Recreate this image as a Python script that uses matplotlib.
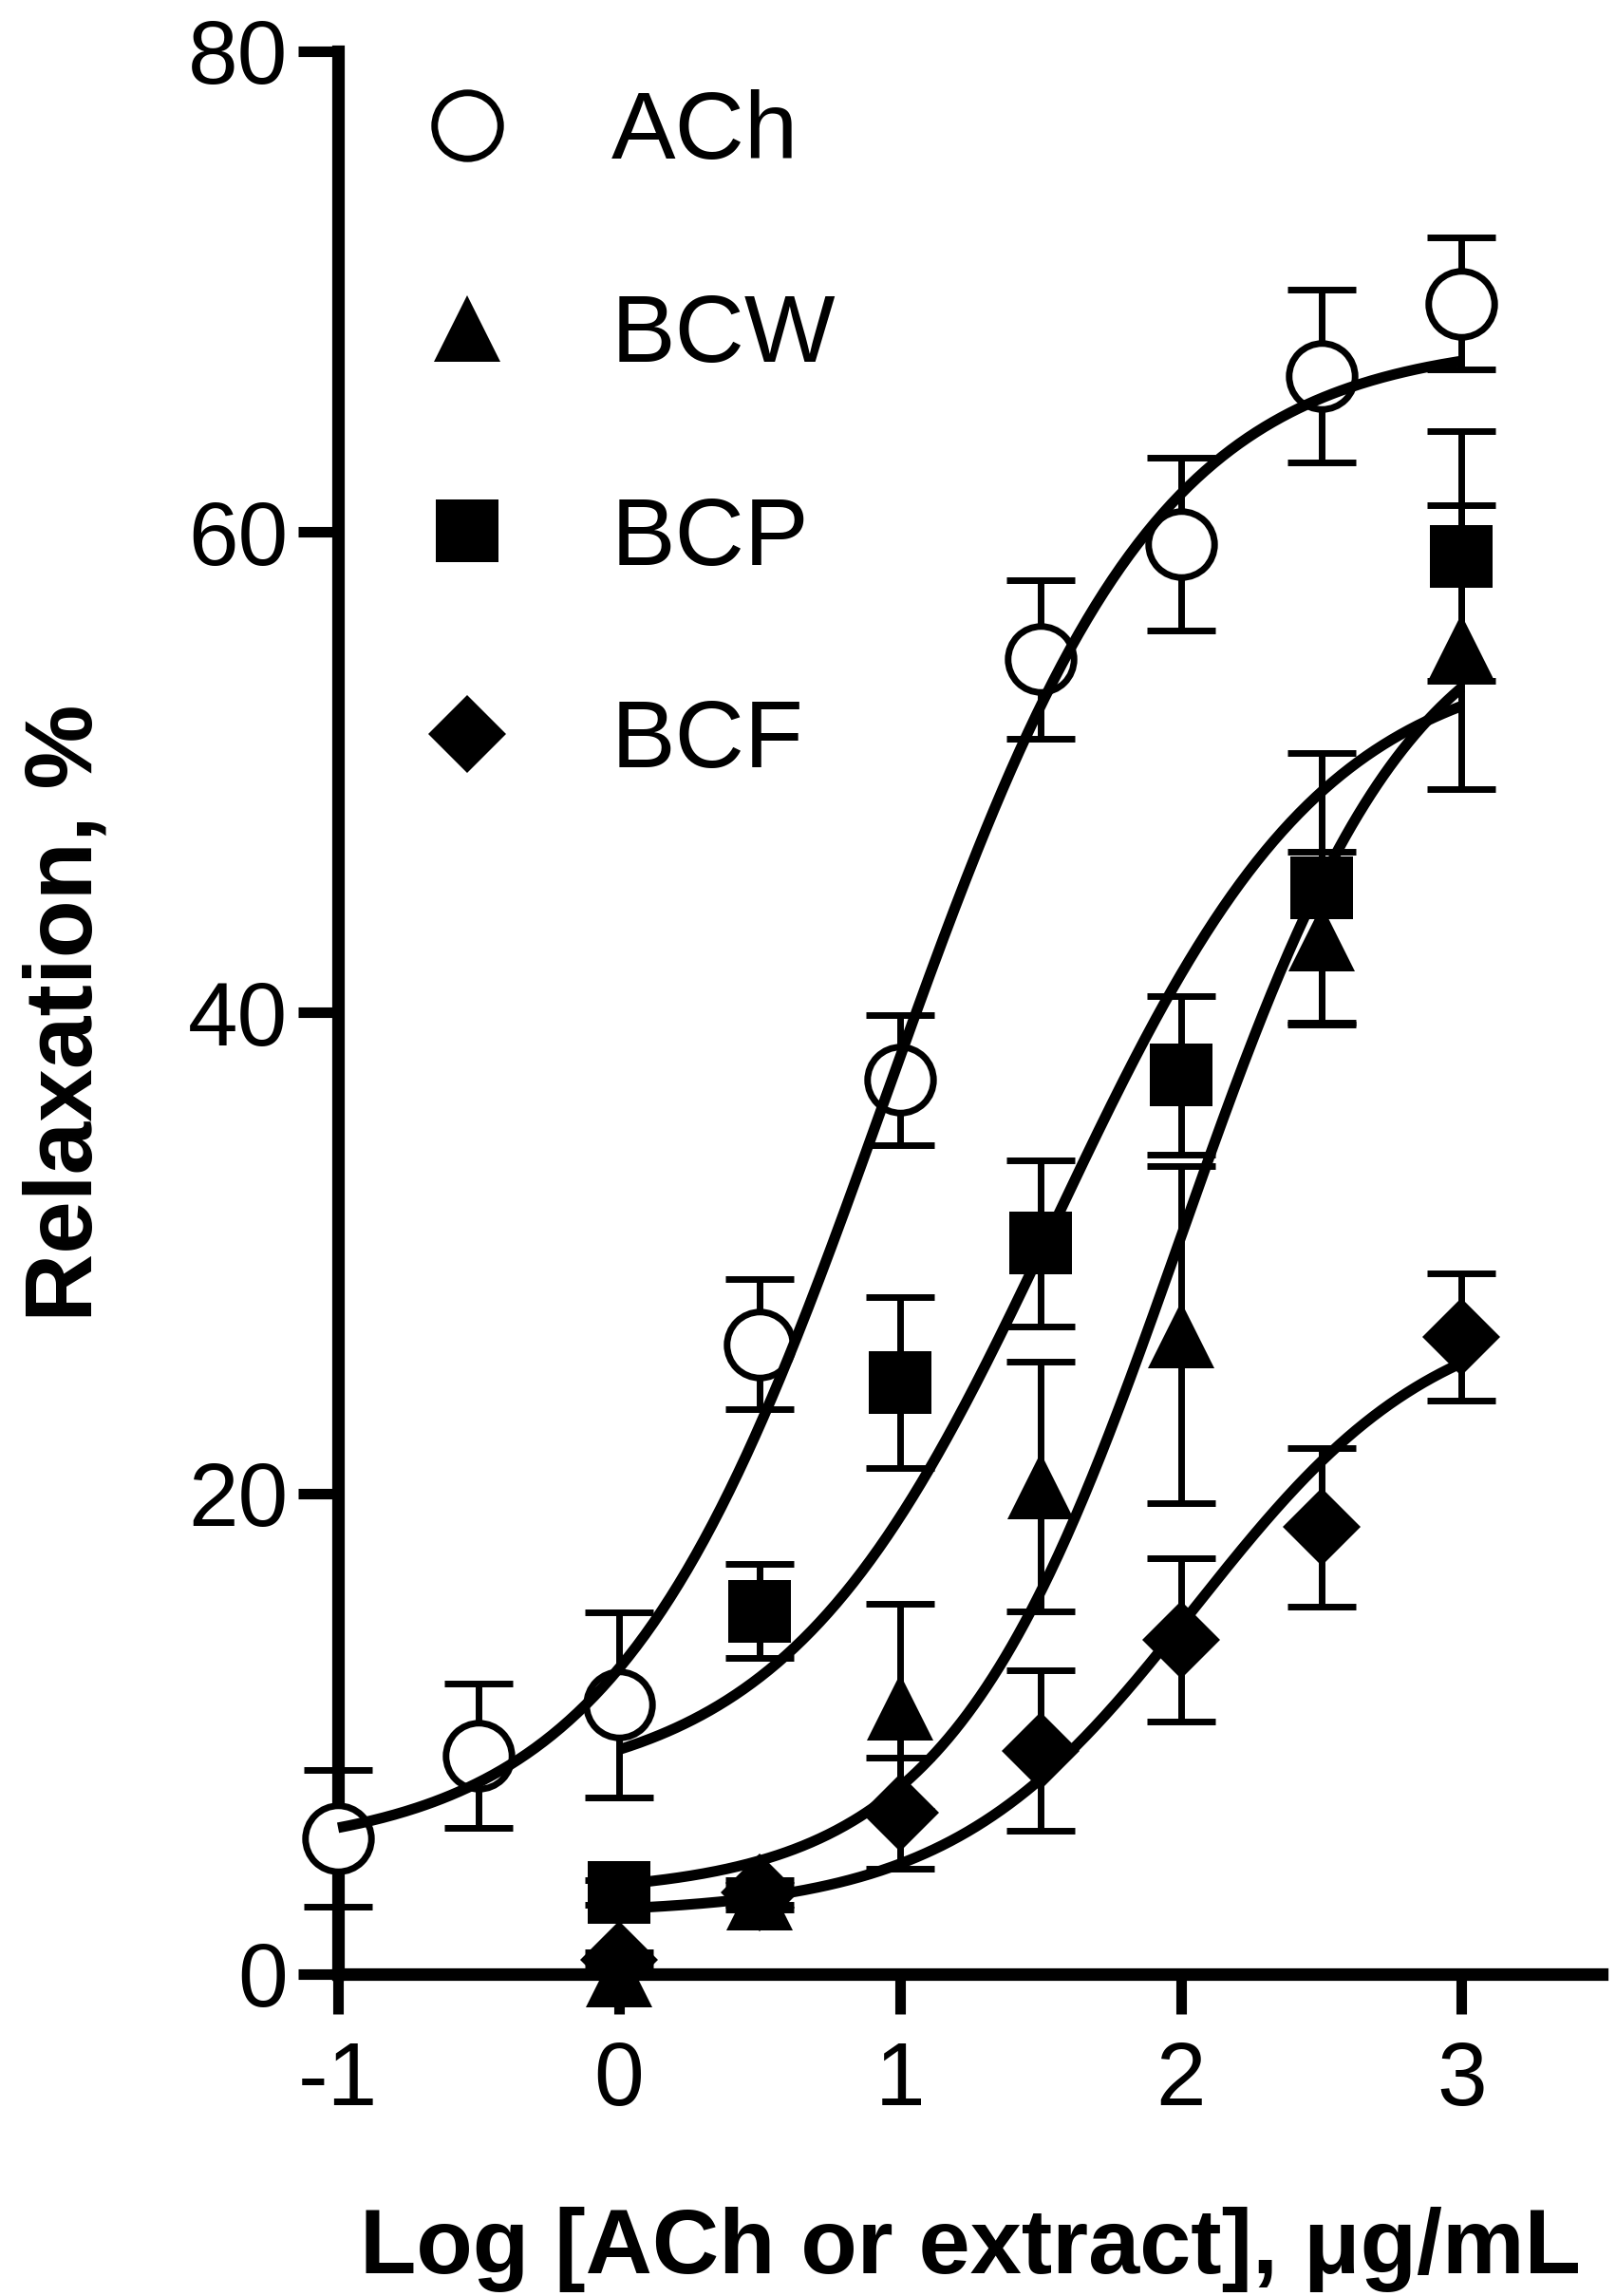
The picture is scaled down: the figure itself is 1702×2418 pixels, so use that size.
import numpy as np
import matplotlib
matplotlib.use("Agg")
import matplotlib.pyplot as plt
from matplotlib.lines import Line2D

plt.rcParams['font.family'] = ['Liberation Sans', 'DejaVu Sans']

# ---------------- data ----------------
ach_conc = [-1, -0.5, 0, 0.5, 1, 1.5, 2, 2.5, 3]
ach_mean = [5.65, 9.1, 11.2, 26.2, 37.2, 54.7, 59.5, 66.5, 69.5]
ach_sem = [2.85, 3.0, 3.85, 2.7, 2.7, 3.3, 3.6, 3.6, 2.75]

ext_conc = [0, 0.5, 1, 1.5, 2, 2.5, 3]
bcw_mean = [0.0, 3.2, 11.1, 20.3, 26.6, 43.1, 55.2]
bcw_sem = [0.0, 0.5, 4.3, 5.2, 7.0, 3.6, 5.9]
bcp_mean = [3.4, 15.1, 24.6, 30.4, 37.4, 45.2, 59.0]
bcp_sem = [0.5, 1.95, 3.55, 3.45, 3.3, 5.6, 5.2]
bcf_mean = [0.6, 3.4, 6.7, 9.3, 13.9, 18.6, 26.5]
bcf_sem = [0.3, 0.5, 2.3, 3.35, 3.4, 3.3, 2.65]

# fitted sigmoidal curves: (bottom, top, logEC50, hill slope)
ach_fit = (5.0, 68.0, 0.95, 0.9)
bcw_fit = (3.3, 58.0, 2.0, 1.05)
bcp_fit = (7.5, 55.0, 1.55, 0.9)
bcf_fit = (2.5, 28.0, 2.05, 1.0)

ach_range = (-1, 3)
ext_range = (0, 3)

x_ticks = [-1, 0, 1, 2, 3]
y_ticks = [0, 20, 40, 60, 80]
series_labels = ['ACh', 'BCW', 'BCP', 'BCF']
x_label = 'Log [ACh or extract], \u03bcg/mL'
y_label = 'Relaxation, %'


def four_pl(x, bottom, top, logec50, hill):
    return bottom + (top - bottom) / (1.0 + 10 ** ((logec50 - x) * hill))


fig = plt.figure(figsize=(17.02, 24.18), dpi=100)
ax = fig.add_axes([0.2092, 0.1402, 0.7822, 0.8375])

LW_ERR = 5.0
CAP = 26
MS = 50

series = [
    (ach_conc, ach_mean, ach_sem, dict(marker='o', ms=MS, mfc='white', mec='black', mew=5.0)),
    (ext_conc, bcw_mean, bcw_sem, dict(marker='^', ms=MS, mfc='black', mec='black', mew=0)),
    (ext_conc, bcp_mean, bcp_sem, dict(marker='s', ms=MS - 2, mfc='black', mec='black', mew=0)),
    (ext_conc, bcf_mean, bcf_sem, dict(marker='D', ms=MS - 8, mfc='black', mec='black', mew=0)),
]

for xs, ys, es, st in series:
    eb = ax.errorbar(xs, ys, yerr=es, fmt='none', ecolor='black', elinewidth=LW_ERR,
                     capsize=CAP, capthick=LW_ERR, zorder=2, clip_on=False)
    for art in eb.get_children():
        art.set_clip_on(False)
    ax.plot(xs, ys, linestyle='none', zorder=3, clip_on=False, **st)

for fit, rng in [(ach_fit, ach_range), (bcw_fit, ext_range), (bcp_fit, ext_range), (bcf_fit, ext_range)]:
    xx = np.linspace(rng[0], rng[1], 400)
    ax.plot(xx, four_pl(xx, *fit), color='black', lw=8.0, zorder=4,
            solid_capstyle='butt', clip_on=False)

ax.set_xlim(-1, 3.5)
ax.set_ylim(0, 80)
ax.set_xticks(x_ticks)
ax.set_xticklabels([str(t) for t in x_ticks])
ax.set_yticks(y_ticks)
ax.set_yticklabels([str(t) for t in y_ticks])

for side in ['top', 'right']:
    ax.spines[side].set_visible(False)
for side in ['left', 'bottom']:
    ax.spines[side].set_linewidth(9.5)
    ax.spines[side].set_capstyle('projecting')

ax.tick_params(axis='both', which='major', direction='out', length=30, width=8,
               labelsize=68, color='black')
ax.tick_params(axis='y', pad=8)
ax.tick_params(axis='x', pad=20)

ax.set_xlabel(x_label, fontsize=70, fontweight='bold', labelpad=62)
ax.set_ylabel(y_label, fontsize=72, fontweight='bold', labelpad=58)

handles = [Line2D([], [], linestyle='none', **st) for _, _, _, st in series]
leg = ax.legend(handles, series_labels, loc='upper left', bbox_to_anchor=(0.064, 0.98),
                frameon=False, fontsize=73, borderaxespad=0, borderpad=0,
                handlelength=1.0, handletextpad=1.0, labelspacing=1.18)

fig.savefig('out.png', dpi=100, facecolor='white')
